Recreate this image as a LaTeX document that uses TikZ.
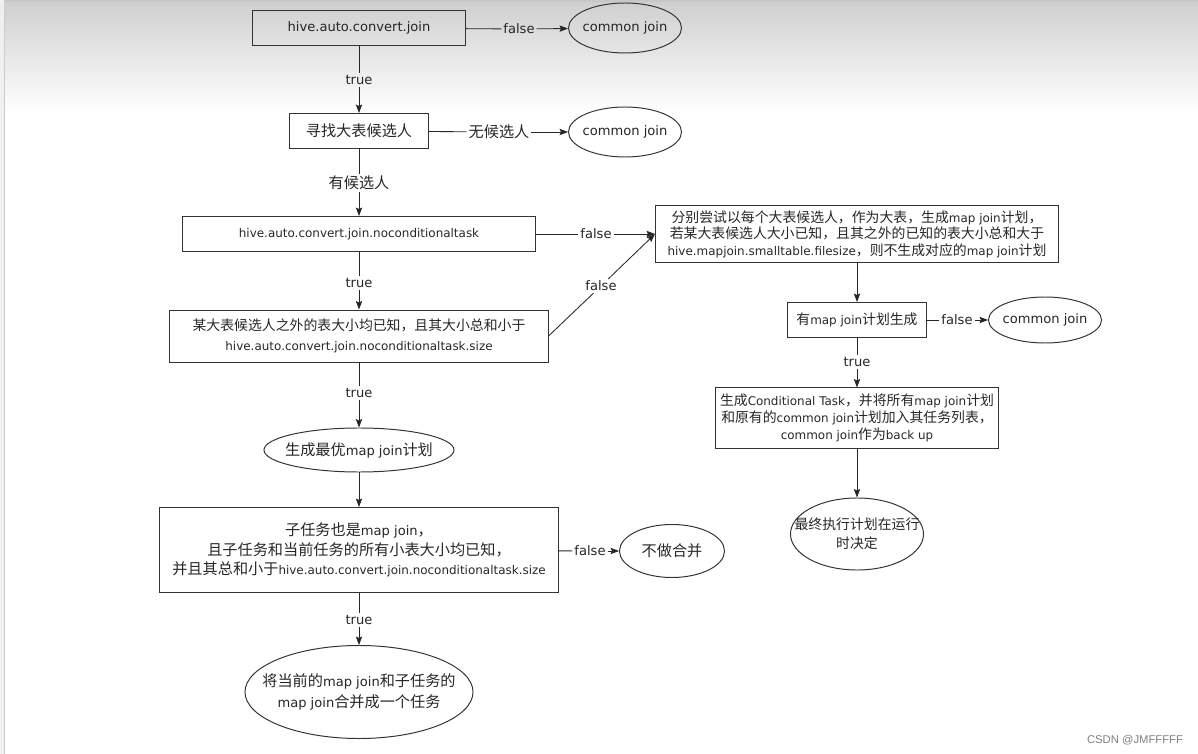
\documentclass[tikz,border=0pt]{standalone}
\usepackage{fontspec}
\usetikzlibrary{shapes.geometric,arrows.meta}
\setmainfont{DejaVu Sans}
\newfontfamily\zhfont{Noto Sans CJK SC}[Scale=1.16]
\newfontfamily\wmfont{Liberation Sans}
\newcommand{\zh}[1]{{\zhfont #1}}

\tikzset{
  box/.style={draw=black!80, line width=0.7pt, align=center, text=black!85, inner sep=1pt},
  oval/.style={ellipse, draw=black!80, line width=0.7pt, align=center, text=black!85, inner sep=-40pt},
  lbl/.style={inner sep=1.2pt, text=black!85, font=\fontsize{9.3}{13}\selectfont},
  conn/.style={line width=0.6pt, draw=black!85},
  arr/.style={conn, -{Stealth[length=6pt,width=4.5pt,inset=1pt]}},
  big/.style={font=\fontsize{9.3}{#1}\selectfont},
  small/.style={font=\fontsize{8.5}{#1}\selectfont},
}

\begin{document}
\begin{tikzpicture}[x=0.025cm, y=-0.025cm]
	\useasboundingbox (0,0) rectangle (1198,754);
	% screenshot background
	\shade[top color=black!19, bottom color=white] (0,0) rectangle (1198,112);
	\fill[black!22] (0,0) rectangle (1198,2);
	\fill[black!6] (0,0) rectangle (4,754);
	\draw[black!20] (4.5,0) -- (4.5,754);

	% left column
	\node[box, big=13, minimum width=5.325cm, minimum height=0.85cm] (conv) at (359,28) {hive.auto.convert.join};
	\node[oval, big=13, minimum width=2.825cm, minimum height=1.25cm] (cj1) at (625,28) {common join};
	\node[box, big=13, minimum width=3.45cm, minimum height=0.875cm] (find) at (359,131) {\zh{寻找大表候选人}};
	\node[oval, big=13, minimum width=2.825cm, minimum height=1.25cm] (cj2) at (625,132) {common join};
	\node[box, small=12, minimum width=8.8cm, minimum height=0.875cm] (notask) at (359,234) {hive.auto.convert.join.noconditionaltask};
	\node[box, small=14.2, minimum width=9.45cm, minimum height=1.3cm] (sizes) at (359,336)
		{\zh{某大表候选人之外的表大小均已知，且其大小总和小于}\\hive.auto.convert.join.noconditionaltask.size};
	\node[oval, big=13, minimum width=4.75cm, minimum height=1.1cm] (best) at (359,450) {\zh{生成最优}map join\zh{计划}};
	\node[box, big=13.8, minimum width=9.95cm, minimum height=2.125cm] (child) at (359,550)
		{\zh{子任务也是}map join\zh{，}\\\zh{且子任务和当前任务的所有小表大小均已知，}\\\zh{并且其总和小于}{\fontsize{8.5}{13.8}\selectfont hive.auto.convert.join.noconditionaltask.size}};
	\node[oval, big=13, minimum width=2.625cm, minimum height=1.325cm] (nomerge) at (672,551) {\zh{不做合并}};
	\node[oval, big=14.9, minimum width=5.7cm, minimum height=2.325cm] (merge) at (359,692)
		{\zh{将当前的}map join\zh{和子任务的}\\map join\zh{合并成一个任务}};

	% right column
	\node[box, small=11.7, minimum width=10.075cm, minimum height=1.425cm] (trymj) at (857,234)
		{\zh{分别尝试以每个大表候选人，作为大表，生成}map join\zh{计划，}\\\zh{若某大表候选人大小已知，且其之外的已知的表大小总和大于}\\hive.mapjoin.smalltable.filesize\zh{，则不生成对应的}map join\zh{计划}};
	\node[box, small=12, minimum width=3.45cm, minimum height=0.875cm] (hasmj) at (857,320) {\zh{有}map join\zh{计划生成}};
	\node[oval, big=13, minimum width=2.825cm, minimum height=1.15cm] (cj3) at (1045,320) {common join};
	\node[box, small=12, minimum width=7.075cm, minimum height=1.5cm] (cond) at (857,418)
		{\zh{生成}Conditional Task\zh{，并将所有}map join\zh{计划}\\\zh{和原有的}common join\zh{计划加入其任务列表，}\\common join\zh{作为}back up};
	\node[oval, small=13.5, minimum width=3.325cm, minimum height=1.8cm] (runtime) at (857,534)
		{\zh{最终执行计划在运行}\\\zh{时决定}};

	% labels on the connectors
	\node[lbl] (l1) at (519,29) {false};
	\node[lbl] (l2) at (359,80) {true};
	\node[lbl] (l3) at (499,132) {\zh{无候选人}};
	\node[lbl] (l4) at (359,183) {\zh{有候选人}};
	\node[lbl] (l5) at (596,234) {false};
	\node[lbl] (l6) at (359,283) {true};
	\node[lbl] (l7) at (601,286) {false};
	\node[lbl] (l8) at (359,393) {true};
	\node[lbl] (l9) at (957,320) {false};
	\node[lbl] (l10) at (857,362) {true};
	\node[lbl] (l11) at (590,551) {false};
	\node[lbl] (l12) at (359,620) {true};

	\draw[conn] (conv) -- (l1);
	\draw[arr] (l1) -- (cj1);
	\draw[conn] (conv) -- (l2);
	\draw[arr] (l2) -- (find);
	\draw[conn] (find) -- (l3);
	\draw[arr] (l3) -- (cj2);
	\draw[conn] (find) -- (l4);
	\draw[arr] (l4) -- (notask);
	\draw[conn] (notask) -- (l5);
	\draw[arr] (l5) -- (trymj.west);
	\draw[conn] (notask) -- (l6);
	\draw[arr] (l6) -- (sizes);
	\draw[conn] (sizes.east) -- (l7);
	\draw[arr] (l7) -- (trymj.west);
	\draw[conn] (sizes) -- (l8);
	\draw[arr] (l8) -- (best);
	\draw[arr] (best) -- (child);
	\draw[conn] (child) -- (l11);
	\draw[arr] (l11) -- (nomerge);
	\draw[conn] (child) -- (l12);
	\draw[arr] (l12) -- (merge);
	\draw[arr] (trymj) -- (hasmj);
	\draw[conn] (hasmj) -- (l9);
	\draw[arr] (l9) -- (cj3);
	\draw[conn] (hasmj) -- (l10);
	\draw[arr] (l10) -- (cond);
	\draw[arr] (cond) -- (runtime);

	\node[text=black!50, font=\wmfont\fontsize{8}{9}\selectfont] (mark) at (1135,740) {CSDN @JMFFFFF};
\end{tikzpicture}
\end{document}
